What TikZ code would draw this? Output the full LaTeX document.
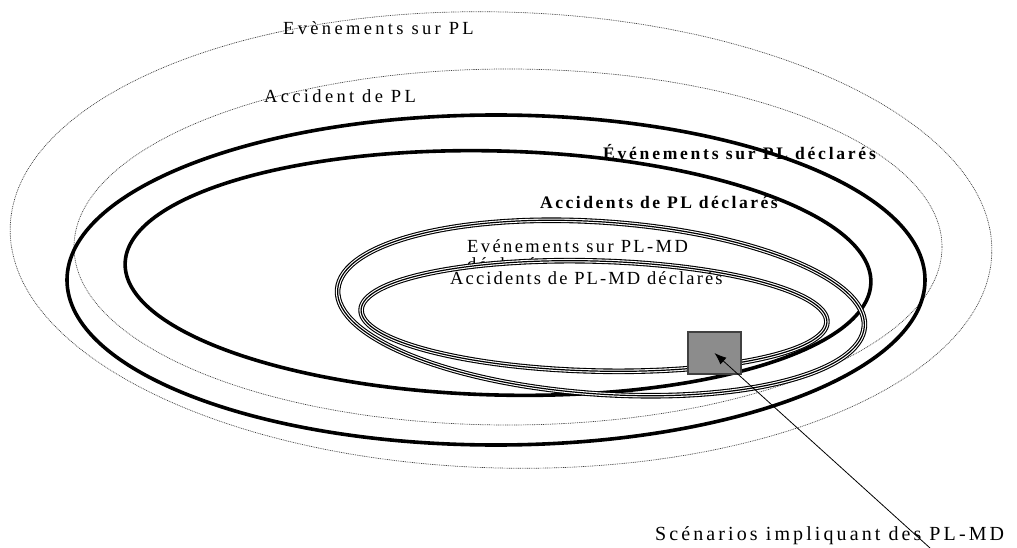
\documentclass[tikz,border=0pt]{standalone}
\usepackage{fontspec}
\setmainfont{Liberation Serif}
\newfontfamily\spreg[LetterSpace=13]{Liberation Serif}
\newfontfamily\spregw[LetterSpace=18]{Liberation Serif}
\newfontfamily\spregn[LetterSpace=11.5]{Liberation Serif}
\newfontfamily\spregs[LetterSpace=15.5]{Liberation Serif}
\newfontfamily\spbold[LetterSpace=14]{Liberation Serif Bold}
\newfontfamily\spboldw[LetterSpace=15.5]{Liberation Serif Bold}
\usetikzlibrary{arrows.meta}
\tikzset{
  dotring/.style={draw=black!75, line width=0.7pt, dash pattern=on 0.9pt off 0.9pt},
  thickring/.style={draw=black, line width=3.6pt},
  triplering/.style={draw=black, line width=5.6pt,
     postaction={draw=white, line width=3.4pt},
     postaction={draw=black, line width=1.2pt}},
  lbl/.style={anchor=base west, inner sep=0pt, font=\spreg\fontsize{18.5}{22}\selectfont},
  lblw/.style={anchor=base west, inner sep=0pt, font=\spregw\fontsize{18.5}{22}\selectfont},
  lbln/.style={anchor=base west, inner sep=0pt, font=\spregn\fontsize{18.5}{22}\selectfont},
  blbl/.style={anchor=base west, inner sep=0pt, font=\spbold\fontsize{17.6}{21}\selectfont},
  blblw/.style={anchor=base west, inner sep=0pt, font=\spboldw\fontsize{17.6}{21}\selectfont},
  scen/.style={fill=black!45, draw=black!75, line width=1.2pt, minimum width=53pt, minimum height=42pt, inner sep=0pt},
}
\begin{document}
\begin{tikzpicture}[x=1pt,y=-1pt]
\useasboundingbox (0,0) rectangle (1017,548);
% rings
\draw[dotring, rotate around={-1.5:(501,240)}] (501,240) ellipse [x radius=491, y radius=228];
\draw[dotring] (508,247) ellipse [x radius=434, y radius=178];
\draw[thickring] (496,280) ellipse [x radius=429, y radius=165];
\draw[thickring, rotate around={-1.5:(498,273)}] (498,273) ellipse [x radius=373, y radius=122];
% labels
\node[lblw] (evpl) at (283,35) {Evènements sur PL};
\node[lblw] (acpl) at (264,103) {Accident de PL};
\node[blblw] (evpld) at (603,160) {Événements sur PL déclarés};
\node[blbl] (acpld) at (540,209) {Accidents de PL déclarés};
\node[lbl] (evmd) at (467,252) {Evénements sur PL-MD};
\node[lbl] (evmd2) at (467,270) {déclarés};
% inner white fill hides the overflow of the label above
\fill[white, rotate around={-1.5:(594,316)}] (594,316) ellipse [x radius=233, y radius=55];
\draw[triplering, rotate around={-4:(601,308)}] (601,308) ellipse [x radius=264, y radius=86];
\draw[triplering, rotate around={-1.5:(594,316)}] (594,316) ellipse [x radius=233, y radius=55];
\node[lbln] (acmd) at (450,284) {Accidents de PL-MD déclarés};
% scenario box and pointer
\node[scen] (box) at (714.5,353) {};
\node[anchor=base west, inner sep=0pt, font=\spregs\fontsize{20}{24}\selectfont] (scn) at (655,540) {Scénarios impliquant des PL-MD};
\coordinate (tail) at (930,548);
\draw[-{Latex[length=12pt,width=9pt]}, line width=0.8pt] (tail) -- (box.center);
\end{tikzpicture}
\end{document}
